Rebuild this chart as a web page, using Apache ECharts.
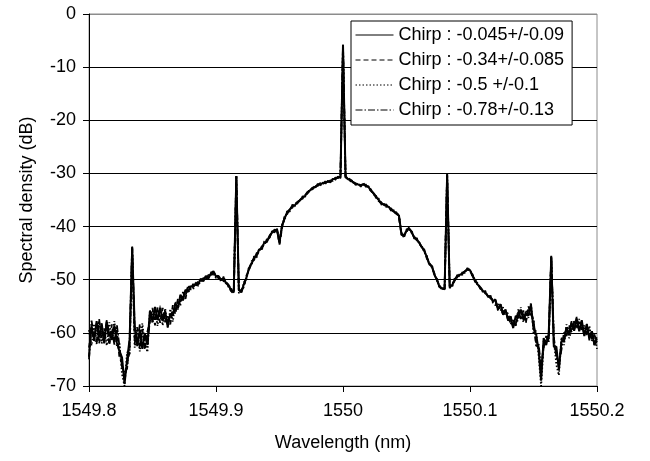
<!DOCTYPE html>
<html>
<head>
<meta charset="utf-8">
<script src="https://cdn.jsdelivr.net/npm/echarts@6/dist/echarts.min.js"></script>
<style>
html,body{margin:0;padding:0;background:#fff;}
#chart{width:650px;height:461px;}
</style>
</head>
<body>
<div id="chart"></div>
<script>
// Sampling grid (nm): start and step of the measured spectrum
const wlStart = 1549.8;
const wlStep = 0.002;
const xTickLabels = ['1549.8', '1549.9', '1550', '1550.1', '1550.2'];
const yTickLabels = ['-70', '-60', '-50', '-40', '-30', '-20', '-10', '0'];
const seriesNames = ['Chirp : -0.045+/-0.09', 'Chirp : -0.34+/-0.085', 'Chirp : -0.5 +/-0.1', 'Chirp : -0.78+/-0.13'];

const chirpA = [
-64.5,-58.6,-61.4,-57.8,-60.9,-58.2,-62.0,-57.9,-60.3,-61.2,
-58.6,-61.9,-63.5,-64.6,-69.6,-65.0,-61.2,-44.0,-58.8,-62.5,
-59.6,-63.0,-60.1,-62.2,-55.8,-57.9,-55.1,-57.6,-55.2,-57.7,
-55.9,-58.9,-56.4,-56.7,-54.4,-55.4,-52.8,-53.9,-51.9,-52.3,
-51.2,-51.4,-50.7,-50.9,-49.8,-50.3,-49.3,-49.8,-48.8,-48.4,
-49.4,-49.3,-50.1,-49.6,-50.7,-51.0,-52.2,-52.1,-30.5,-51.8,
-52.4,-50.8,-49.6,-47.8,-47.0,-45.8,-45.5,-44.3,-44.2,-43.0,
-42.9,-41.8,-41.2,-40.6,-40.7,-43.0,-39.8,-38.5,-37.3,-36.9,
-36.1,-36.0,-35.4,-35.1,-34.5,-34.3,-33.5,-33.2,-32.7,-32.6,
-32.1,-32.1,-31.8,-31.8,-31.5,-31.6,-31.1,-31.0,-30.7,-30.7,
-5.8,-30.5,-31.1,-31.2,-31.7,-31.9,-32.1,-32.2,-32.0,-32.3,
-32.5,-33.3,-33.7,-34.5,-34.9,-35.7,-35.8,-36.1,-36.3,-36.9,
-37.1,-37.6,-37.9,-41.3,-41.9,-40.7,-40.4,-40.9,-42.1,-42.3,
-43.1,-43.8,-44.6,-45.7,-47.1,-47.4,-49.1,-49.9,-51.4,-51.6,
-51.8,-30.1,-51.2,-51.1,-49.9,-49.4,-49.1,-48.9,-48.4,-48.1,
-48.2,-49.3,-50.1,-50.9,-51.4,-52.1,-52.3,-53.1,-53.1,-54.1,
-53.7,-55.6,-54.6,-56.4,-55.6,-57.7,-56.9,-59.1,-56.8,-57.2,
-55.6,-57.5,-56.3,-56.8,-54.7,-59.2,-60.2,-63.2,-69.0,-61.0,
-62.3,-60.1,-45.7,-62.6,-62.6,-67.0,-61.5,-61.6,-59.0,-60.4,
-58.1,-59.6,-57.3,-59.7,-57.6,-60.6,-58.4,-61.0,-59.7,-62.3,
-61.5
];
const chirpB = [
-62.8,-59.0,-61.5,-58.2,-62.0,-58.6,-61.9,-58.1,-62.3,-58.4,
-61.8,-59.5,-64.8,-65.5,-68.4,-66.0,-63.5,-43.6,-62.0,-59.0,
-62.9,-59.3,-63.2,-59.8,-57.9,-55.3,-58.6,-55.2,-58.1,-55.3,
-58.0,-56.9,-58.4,-54.8,-56.5,-53.6,-54.8,-52.3,-53.6,-51.0,
-51.9,-50.8,-51.4,-50.3,-50.4,-49.7,-50.0,-49.1,-49.3,-48.7,
-48.9,-49.8,-49.5,-50.3,-50.2,-51.5,-51.7,-52.6,-30.6,-52.3,
-51.9,-51.4,-49.2,-48.3,-46.5,-46.3,-45.0,-44.8,-43.7,-43.5,
-42.4,-42.3,-40.8,-41.1,-40.3,-43.4,-40.3,-38.1,-37.7,-36.5,
-36.5,-35.6,-35.7,-34.8,-34.8,-34.0,-33.8,-32.9,-33.0,-32.3,
-32.4,-31.8,-32.1,-31.5,-31.8,-31.3,-31.4,-30.8,-30.9,-30.4,
-6.0,-30.8,-30.8,-31.5,-31.4,-32.2,-31.8,-32.5,-31.8,-32.5,
-32.7,-33.0,-34.0,-34.2,-35.2,-35.4,-36.1,-35.8,-36.6,-36.6,
-37.4,-37.3,-38.2,-41.6,-41.5,-41.0,-40.1,-41.2,-41.8,-42.6,
-42.8,-44.1,-44.3,-46.0,-46.8,-47.7,-48.8,-50.2,-51.1,-51.9,
-51.5,-30.3,-51.6,-50.8,-50.2,-49.1,-49.4,-48.6,-48.7,-47.8,
-48.5,-49.0,-50.4,-50.6,-51.7,-51.8,-52.6,-52.8,-53.5,-53.8,
-54.0,-55.6,-54.9,-56.6,-55.9,-57.6,-56.9,-59.1,-58.5,-55.6,
-57.4,-55.8,-58.1,-55.0,-56.6,-57.4,-62.4,-62.6,-67.8,-61.5,
-62.0,-60.3,-45.5,-62.4,-63.4,-66.4,-62.0,-61.4,-58.9,-60.4,
-57.8,-59.6,-57.0,-59.4,-58.0,-60.6,-58.3,-61.4,-59.6,-62.3,
-60.6
];
const chirpC = [
-59.5,-62.4,-58.3,-61.7,-57.9,-62.0,-59.1,-62.4,-58.0,-61.5,
-57.8,-62.6,-61.9,-67.8,-70.0,-63.6,-64.0,-44.2,-62.8,-58.9,
-63.5,-58.2,-62.0,-63.6,-55.7,-58.2,-55.6,-58.7,-54.9,-58.6,
-55.4,-59.0,-55.5,-57.9,-54.2,-55.6,-53.0,-53.8,-51.9,-52.4,
-51.6,-51.8,-50.5,-51.2,-50.1,-49.9,-49.6,-49.5,-48.6,-48.9,
-49.7,-49.1,-50.4,-49.4,-50.9,-50.8,-52.4,-52.0,-30.4,-52.6,
-52.1,-50.5,-49.8,-47.6,-47.3,-45.6,-45.8,-44.1,-44.5,-42.8,
-42.6,-42.0,-40.9,-40.9,-40.4,-42.7,-39.6,-38.8,-37.1,-37.2,
-35.9,-36.2,-35.2,-35.3,-34.3,-34.5,-33.4,-33.4,-32.6,-32.8,
-32.0,-32.3,-31.7,-32.0,-31.4,-31.7,-31.0,-31.2,-30.6,-30.9,
-5.9,-30.6,-31.2,-31.0,-31.8,-31.7,-32.3,-32.0,-32.2,-32.1,
-32.4,-33.4,-33.5,-34.6,-34.7,-35.9,-35.6,-36.3,-36.2,-37.1,
-36.9,-37.8,-37.6,-41.1,-42.1,-40.5,-40.6,-40.7,-42.3,-42.1,
-43.3,-43.6,-44.8,-45.5,-47.3,-47.2,-49.3,-49.7,-51.6,-51.4,
-52.0,-30.0,-51.0,-51.3,-49.7,-49.6,-48.9,-49.1,-48.2,-48.3,
-48.0,-49.5,-49.9,-51.1,-51.2,-52.3,-52.1,-53.3,-52.9,-54.3,
-54.8,-54.6,-55.8,-55.2,-56.8,-56.6,-58.2,-58.1,-58.0,-57.6,
-55.2,-58.0,-55.8,-57.2,-54.3,-60.0,-59.6,-64.2,-70.0,-62.2,
-60.8,-61.5,-45.9,-61.3,-66.0,-68.0,-60.8,-62.3,-58.4,-61.0,
-59.6,-57.8,-58.8,-57.4,-59.6,-58.6,-60.4,-58.7,-61.5,-60.3,
-63.0
];
const chirpD = [
-65.0,-57.7,-60.8,-62.1,-57.4,-61.5,-60.6,-57.6,-61.9,-59.6,
-62.2,-58.6,-62.6,-66.4,-67.6,-66.7,-61.3,-43.8,-59.4,-62.2,
-58.4,-62.8,-60.0,-62.7,-57.2,-56.2,-57.3,-55.6,-57.0,-56.6,
-57.4,-57.6,-58.0,-55.4,-55.8,-54.0,-54.1,-52.7,-53.0,-51.3,
-51.4,-51.2,-50.9,-50.6,-50.0,-50.1,-49.4,-49.6,-48.9,-48.6,
-49.2,-49.5,-49.9,-49.8,-50.5,-51.2,-52.0,-52.4,-30.5,-52.0,
-52.2,-51.0,-49.4,-48.0,-46.8,-46.0,-45.3,-44.5,-44.0,-43.3,
-42.7,-42.1,-41.0,-40.8,-40.5,-43.2,-40.0,-38.3,-37.5,-36.8,
-36.3,-35.8,-35.5,-35.0,-34.6,-34.1,-33.7,-33.1,-32.8,-32.5,
-32.2,-32.0,-31.9,-31.7,-31.6,-31.5,-31.2,-30.9,-30.8,-30.6,
-5.8,-30.7,-31.0,-31.3,-31.6,-32.0,-32.0,-32.3,-32.1,-32.2,
-32.6,-33.2,-33.8,-34.4,-35.0,-35.5,-35.9,-36.0,-36.4,-36.8,
-37.2,-37.5,-37.8,-41.4,-41.7,-40.9,-40.3,-41.0,-42.0,-42.4,
-43.0,-43.9,-44.5,-45.8,-47.0,-47.5,-49.0,-50.0,-51.3,-51.7,
-51.7,-30.2,-51.3,-51.0,-50.0,-49.3,-49.2,-48.8,-48.5,-48.0,
-48.3,-49.2,-50.2,-50.8,-51.5,-52.0,-52.4,-53.0,-53.2,-54.0,
-53.8,-55.8,-54.6,-56.6,-56.0,-56.4,-58.4,-57.6,-58.8,-56.0,
-57.2,-56.2,-57.8,-55.4,-56.2,-57.6,-61.8,-62.0,-66.5,-62.8,
-60.6,-61.8,-45.6,-60.8,-64.6,-65.8,-63.2,-59.9,-60.6,-58.6,
-59.8,-57.9,-59.2,-57.8,-59.4,-58.8,-60.2,-59.3,-61.4,-60.5,
-61.4
];

const allSeries = [chirpA, chirpB, chirpC, chirpD];
const lineTypes = ['solid', [5, 3], [1.5, 2], [7, 2, 1.5, 2]];
const lineWidths = [2, 1.8, 1.8, 1.8];

function pairs(vals) {
  return vals.map((v, i) => [+(wlStart + i * wlStep).toFixed(3), v]);
}

const chart = echarts.init(document.getElementById('chart'), null, {renderer: 'canvas'});
const font = 'Liberation Sans, Arial, sans-serif';
chart.setOption({
  animation: false,
  backgroundColor: '#fff',
  grid: {
    left: 89, right: 53, top: 14, bottom: 75,
    containLabel: false,
    outerBoundsMode: 'none',
    show: true, borderColor: '#8c8c8c', borderWidth: 1, backgroundColor: '#fff'
  },
  legend: {
    orient: 'vertical',
    left: 351, top: 21,
    data: seriesNames,
    backgroundColor: '#fff',
    borderColor: '#000', borderWidth: 1, borderRadius: 0,
    padding: [5, 8, 6, 4],
    itemWidth: 38, itemHeight: 14, itemGap: 7,
    itemStyle: {opacity: 0},
    lineStyle: {width: 1},
    textStyle: {fontFamily: font, fontSize: 18, color: '#000', lineHeight: 18},
    selectedMode: false
  },
  xAxis: {
    type: 'value',
    min: 1549.8, max: 1550.2, interval: 0.1,
    name: 'Wavelength (nm)',
    nameLocation: 'middle', nameGap: 48,
    nameTextStyle: {fontFamily: font, fontSize: 18, color: '#000'},
    axisLine: {onZero: false, lineStyle: {color: '#000', width: 1}},
    axisTick: {show: true, inside: false, length: 6, lineStyle: {color: '#000'}},
    axisLabel: {
      margin: 16, fontFamily: font, fontSize: 18, color: '#000',
      formatter: (v, i) => xTickLabels[i] !== undefined ? xTickLabels[i] : String(v)
    },
    splitLine: {show: false}
  },
  yAxis: {
    type: 'value',
    min: -70, max: 0, interval: 10,
    name: 'Spectral density (dB)',
    nameLocation: 'middle', nameGap: 53, nameRotate: 90,
    nameTextStyle: {fontFamily: font, fontSize: 18, color: '#000'},
    axisLine: {show: true, onZero: false, lineStyle: {color: '#000', width: 1}},
    axisTick: {show: true, inside: false, length: 6, lineStyle: {color: '#000'}},
    axisLabel: {
      margin: 13, fontFamily: font, fontSize: 18, color: '#000',
      formatter: (v, i) => yTickLabels[i] !== undefined ? yTickLabels[i] : String(v)
    },
    splitLine: {show: true, lineStyle: {color: ['#000', '#000', '#000', '#000', '#000', '#000', '#000', '#8c8c8c'], width: 1}}
  },
  series: allSeries.map((vals, k) => ({
    name: seriesNames[k],
    type: 'line',
    data: pairs(vals),
    showSymbol: false,
    symbol: 'none',
    sampling: null,
    lineStyle: {color: '#000', width: lineWidths[k], type: lineTypes[k]},
    itemStyle: {color: '#000'},
    z: 2 + k
  }))
});
</script>
</body>
</html>
